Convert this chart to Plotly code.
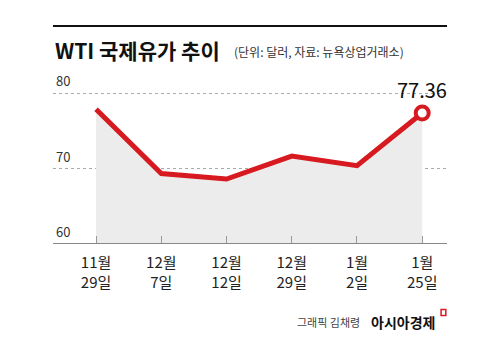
import plotly.graph_objects as go

dates = ["11월<br>29일", "12월<br>7일", "12월<br>12일", "12월<br>29일", "1월<br>2일", "1월<br>25일"]
prices = [77.86, 69.34, 68.61, 71.65, 70.38, 77.36]
y_ticks = [60, 70, 80]

xs = list(range(len(dates)))
RED = "#d71920"
FONT = "Noto Sans CJK KR"

fig = go.Figure()
fig.add_trace(go.Scatter(x=xs, y=prices, mode="lines", line=dict(width=0),
                         fill="tozeroy", fillcolor="#ececec", hoverinfo="skip"))
fig.add_trace(go.Scatter(x=xs, y=prices, mode="lines", line=dict(color=RED, width=5)))
fig.add_trace(go.Scatter(x=[xs[-1]], y=[prices[-1]], mode="markers",
                         marker=dict(size=13, color="white", line=dict(color=RED, width=4))))

fig.update_layout(
    width=500, height=345, margin=dict(l=53, r=53, t=78, b=101),
    paper_bgcolor="white", plot_bgcolor="white", showlegend=False,
    font=dict(family=FONT, color="#222"),
    xaxis=dict(range=[-0.66, 5.38], tickvals=xs, ticktext=dates, ticks="inside",
               ticklen=8, tickcolor="#999", tickwidth=1, showgrid=False, zeroline=False,
               showline=False, tickfont=dict(size=15, color="#222"), ticklabelstandoff=8,
               fixedrange=True),
    yaxis=dict(range=[60, 82], tickvals=y_ticks, showticklabels=False,
               showgrid=True, gridcolor="#aaa", griddash="dot", gridwidth=1,
               zeroline=False, showline=False, ticks=""),
)
for v in y_ticks:
    fig.add_annotation(xref="paper", yref="y", x=0.003, y=v, xanchor="left", yanchor="bottom",
                       yshift=1, text=str(v), showarrow=False,
                       font=dict(size=13, color="#333", family=FONT))
# x axis baseline at 60
fig.add_shape(type="line", xref="paper", yref="y", x0=0, x1=1, y0=60, y1=60,
              line=dict(color="#888", width=2))
# top rule
fig.add_shape(type="line", xref="paper", yref="paper", x0=0, x1=1, y0=1.313, y1=1.313,
              line=dict(color="#111", width=2))

fig.add_annotation(xref="paper", yref="paper", x=0.0, y=1.17, xanchor="left", yanchor="middle",
                   text="<b>WTI 국제유가 추이</b>", showarrow=False,
                   font=dict(size=21, color="#111", family=FONT))
fig.add_annotation(xref="paper", yref="paper", x=0.455, y=1.16, xanchor="left", yanchor="middle",
                   text="(단위: 달러, 자료: 뉴욕상업거래소)", showarrow=False,
                   font=dict(size=12, color="#333", family=FONT))
fig.add_annotation(x=xs[-1], y=prices[-1], yshift=24, text=f"{prices[-1]:.2f}", showarrow=False,
                   font=dict(size=20, color="#111", family=FONT))

fig.add_annotation(xref="paper", yref="paper", x=0.785, y=-0.47, xanchor="right", yanchor="middle",
                   text="그래픽 김채령", showarrow=False, font=dict(size=11, color="#444", family=FONT))
fig.add_annotation(xref="paper", yref="paper", x=0.975, y=-0.47, xanchor="right", yanchor="middle",
                   text="<b>아시아경제</b>", showarrow=False, font=dict(size=14, color="#111", family=FONT))
fig.add_shape(type="rect", xref="paper", yref="paper", x0=0.985, x1=0.997, y0=-0.43, y1=-0.395,
              line=dict(color=RED, width=1.5))

fig.write_html("out.html")
